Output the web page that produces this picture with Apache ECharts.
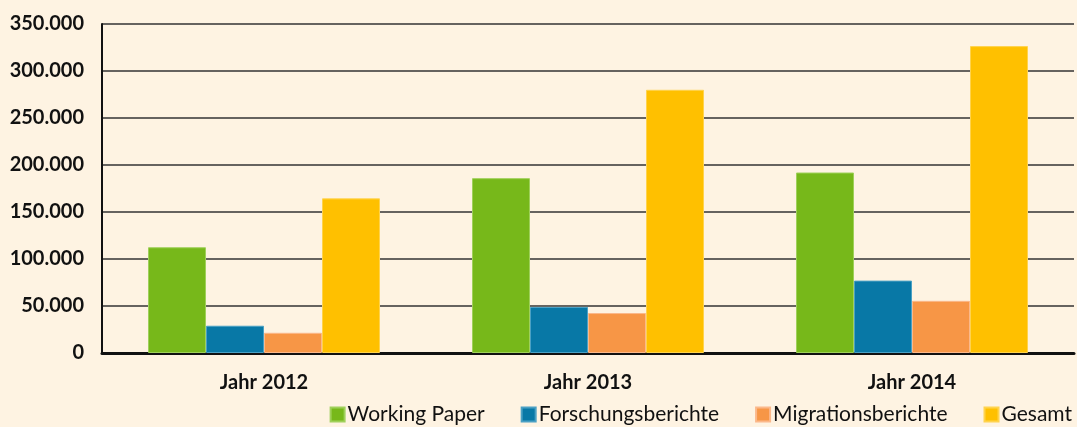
<!DOCTYPE html>
<html>
<head>
<meta charset="utf-8">
<script src="https://cdn.jsdelivr.net/npm/echarts@6/dist/echarts.min.js"></script>
<style>
  html, body { margin: 0; padding: 0; background: #fef3e2; }
  #chart { width: 1077px; height: 427px; }
</style>
</head>
<body>
<div id="chart"></div>
<script>
var years = ['Jahr 2012', 'Jahr 2013', 'Jahr 2014'];
var workingPaper = [112500, 186000, 192000];
var forschung = [29000, 49000, 77000];
var migration = [21500, 42500, 55500];
var gesamt = [164500, 280000, 326500];

var myChart = echarts.init(document.getElementById('chart'));

function bar(name, data, color, border) {
    return {
        name: name,
        type: 'bar',
        data: data,
        barWidth: 58,
        barGap: '0%',
        itemStyle: { color: color, borderColor: border, borderWidth: 1 }
    };
}

myChart.setOption({
    backgroundColor: '#fef3e2',
    textStyle: { fontFamily: 'Lato' },
    grid: { left: 102, right: 3, top: 24, bottom: 74 },
    legend: {
        right: 0,
        bottom: -3,
        itemWidth: 14,
        itemHeight: 14,
        itemGap: 36,
        icon: 'rect',
        textStyle: { fontSize: 21, color: '#111', fontFamily: 'Lato', padding: [0, 0, 0, -2] },
        data: ['Working Paper', 'Forschungsberichte', 'Migrationsberichte', 'Gesamt']
    },
    xAxis: {
        type: 'category',
        data: years,
        axisLine: { lineStyle: { color: '#111', width: 3 } },
        axisTick: { show: false },
        axisLabel: { fontSize: 20, fontWeight: 'bold', color: '#111', margin: 20 }
    },
    yAxis: {
        type: 'value',
        min: 0,
        max: 350000,
        interval: 50000,
        axisLine: { show: true, lineStyle: { color: '#111', width: 2 } },
        axisTick: { show: false },
        splitLine: { lineStyle: { color: '#333', width: 1.5 } },
        axisLabel: {
            fontSize: 20,
            fontWeight: 'bold',
            color: '#111',
            margin: 18,
            formatter: function (v) {
                return v === 0 ? '0' : (v / 1000) + '.000';
            }
        }
    },
    series: [
        bar('Working Paper', workingPaper, '#77b81a', '#9fd05a'),
        bar('Forschungsberichte', forschung, '#0878a6', '#4aa0c4'),
        bar('Migrationsberichte', migration, '#f79646', '#fbb88a'),
        bar('Gesamt', gesamt, '#ffc000', '#ffd34d')
    ]
});

window.addEventListener('resize', function () {
    myChart.resize();
});
</script>
</body>
</html>
